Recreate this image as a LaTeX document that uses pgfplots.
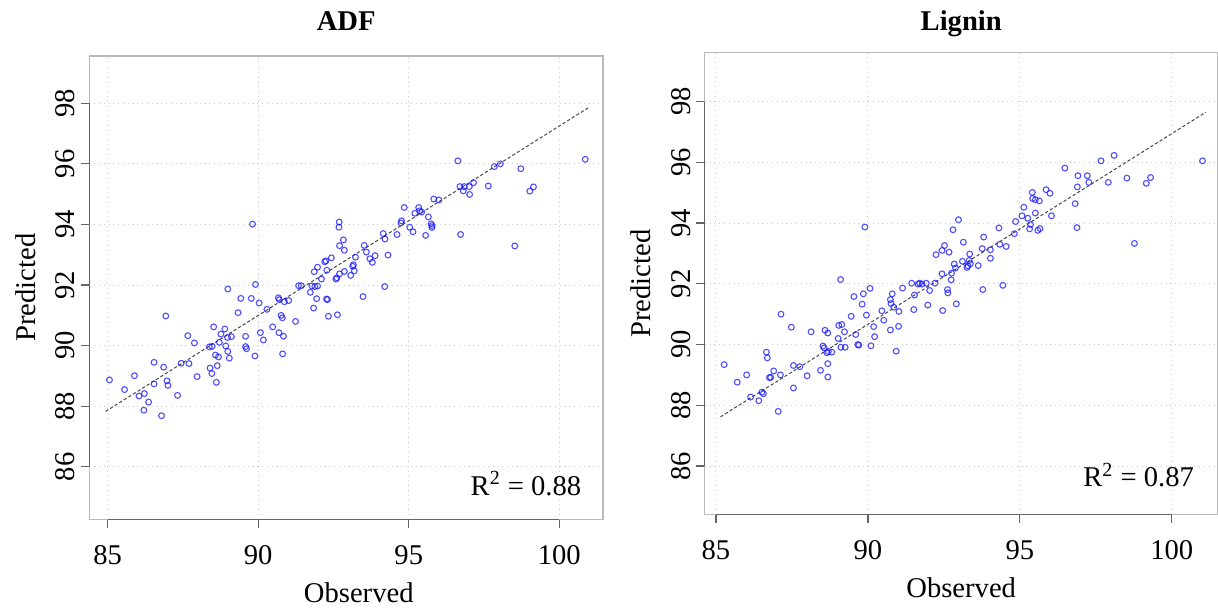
\documentclass[border=0pt]{standalone}
\usepackage{fontspec}
\setmainfont{Liberation Serif}
\usepackage{pgfplots}
\pgfplotsset{compat=1.18}
\definecolor{boxgray}{RGB}{185,185,185}
\definecolor{axgray}{RGB}{100,100,100}
\definecolor{gridgray}{RGB}{200,200,200}
\definecolor{ptblue}{RGB}{20,20,255}
\definecolor{linegray}{RGB}{70,70,70}

\pgfplotstableread{
x y
85.06 88.87
85.56 88.55
85.89 89.01
86.04 88.34
86.22 88.42
86.36 88.14
86.20 87.87
86.79 87.69
86.54 89.45
86.86 89.29
86.54 88.74
86.97 88.84
87.00 88.69
86.93 90.98
87.32 88.36
87.44 89.42
87.70 89.41
87.66 90.33
87.88 90.09
87.97 88.98
88.40 89.26
88.46 89.08
88.61 88.79
88.38 89.96
88.47 89.98
88.58 89.69
88.68 89.63
88.64 89.34
88.52 90.62
88.76 90.38
88.89 90.55
88.71 90.11
88.98 90.27
89.11 90.30
88.92 89.99
88.99 89.81
89.04 89.59
88.99 91.87
89.42 91.56
89.77 91.56
89.91 92.02
90.03 91.41
89.33 91.09
90.29 91.20
89.58 90.31
89.58 89.97
89.61 89.90
89.89 89.66
90.07 90.43
90.17 90.19
90.48 90.62
90.69 90.43
90.84 90.31
90.81 89.73
90.76 91.00
90.80 90.92
90.67 91.58
90.70 91.52
90.87 91.45
91.01 91.49
91.24 90.80
89.81 94.01
91.34 91.98
91.43 91.98
91.73 91.76
91.78 91.97
91.88 91.95
91.97 91.97
91.94 91.55
91.84 91.24
92.27 91.54
92.30 91.52
92.33 90.97
92.63 91.02
92.10 92.20
92.58 92.20
92.61 92.24
92.70 92.37
93.07 92.32
92.86 92.45
93.19 92.47
91.86 92.44
92.28 92.49
91.97 92.59
92.25 92.80
92.21 92.77
93.16 92.67
93.14 92.62
92.43 92.90
92.70 93.30
92.86 93.15
92.83 93.49
92.69 94.08
92.68 93.91
93.23 92.92
93.52 93.31
93.59 93.09
93.88 92.97
93.71 92.87
93.79 92.75
94.31 92.99
93.48 91.62
94.20 91.95
94.15 93.70
94.21 93.52
94.61 93.67
94.76 94.12
94.74 94.05
95.03 93.91
95.14 93.76
95.56 93.64
94.85 94.56
95.33 94.56
95.36 94.45
95.20 94.37
95.43 94.41
95.65 94.25
95.74 94.02
95.77 93.96
95.77 93.90
95.83 94.84
96.00 94.81
96.63 96.10
96.72 93.67
96.70 95.25
96.84 95.25
96.81 95.11
97.01 95.25
97.15 95.38
97.02 94.99
97.64 95.27
97.84 95.91
98.04 96.00
98.72 95.84
99.02 95.10
99.14 95.24
98.52 93.29
100.86 96.15
}\adf

\pgfplotstableread{
x y
85.27 89.34
85.70 88.76
86.01 89.00
86.14 88.27
86.41 88.15
86.51 88.43
86.56 88.38
86.66 89.75
86.69 89.56
86.90 89.13
86.76 88.91
86.80 88.92
87.12 89.00
87.05 87.80
87.14 91.00
87.48 90.57
87.55 89.31
87.76 89.27
87.55 88.57
88.00 88.97
88.13 90.42
88.44 89.15
88.68 89.37
88.68 88.93
88.52 89.95
88.56 89.89
88.65 89.73
88.70 89.77
88.81 89.75
88.59 90.47
88.68 90.38
89.02 90.20
89.04 90.63
89.14 90.66
89.23 90.42
89.11 89.91
89.25 89.91
89.45 90.93
89.54 91.58
89.60 90.33
89.67 90.00
89.70 89.98
89.81 91.33
89.85 91.67
90.07 91.85
89.95 90.97
90.19 90.59
90.22 90.26
90.10 89.96
90.46 91.11
90.52 90.80
90.74 91.48
90.80 91.67
90.76 91.35
90.85 91.23
91.02 91.09
90.74 90.48
91.01 90.60
90.93 89.78
91.14 91.86
91.53 91.63
91.51 91.15
91.97 91.30
92.46 91.12
92.63 91.70
92.62 91.81
92.91 91.34
89.10 92.14
89.90 93.87
91.44 92.02
91.65 91.99
91.70 92.02
91.78 91.99
91.92 92.02
92.21 92.02
92.03 91.78
92.44 92.33
92.74 92.13
92.75 92.35
92.84 92.65
92.88 92.52
93.11 92.74
93.33 92.77
93.29 92.59
93.37 92.66
93.26 92.54
93.63 92.60
92.52 93.26
92.44 93.10
92.24 92.96
92.67 93.04
93.35 92.98
93.14 93.37
92.80 93.78
92.98 94.11
93.81 93.54
93.76 93.16
94.03 93.12
94.03 92.84
94.34 93.30
94.55 93.23
94.31 93.84
94.82 93.65
94.86 94.05
95.07 94.24
95.26 94.16
95.35 93.95
95.32 93.81
95.66 93.82
95.59 93.76
95.51 94.33
95.13 94.52
96.04 94.24
95.41 95.01
95.42 94.81
95.51 94.77
95.64 94.73
95.86 95.10
95.99 94.98
96.48 95.81
96.91 95.56
97.22 95.56
96.89 95.19
97.27 95.34
96.82 94.64
96.88 93.85
93.78 91.81
94.44 91.95
97.67 96.05
98.10 96.23
97.91 95.34
98.52 95.48
99.16 95.31
99.30 95.50
98.77 93.33
101.01 96.05
}\lignin

\pgfplotsset{
  rstyle/.style={
    scale only axis,
    clip=false,
    axis line style={boxgray, line width=0.6pt},
    tick pos=left,
    tick align=outside,
    major tick length=4.3pt,
    tick style={axgray, line width=0.6pt},
    xtick={85,90,95,100},
    ytick={86,88,90,92,94,96,98},
    grid=major,
    major grid style={gridgray, dotted, line width=0.5pt},
    /pgf/number format/assume math mode=true,
    tick label style={font=\fontsize{14.3}{17}\selectfont},
    xticklabel style={anchor=base},
    xticklabel shift=18.5pt,
    yticklabel style={rotate=90, anchor=base},
    yticklabel shift=3pt,
    every axis title/.style={at={(axis description cs:0.5,1)}, anchor=base, yshift=12.5pt, font=\bfseries\fontsize{14.3}{17}\selectfont},
    every axis x label/.style={at={(axis description cs:0.5,0)}, anchor=base, yshift=-41.5pt, font=\fontsize{14.3}{17}\selectfont},
    every axis y label/.style={at={(axis description cs:0,0.5)}, xshift=-27pt, rotate=90, anchor=base, font=\fontsize{14.3}{17}\selectfont},
    xlabel={Observed},
    ylabel={Predicted},
  },
  pts/.style={only marks, mark=o, mark size=1.45pt, ptblue, draw opacity=0.75, mark options={line width=0.55pt}},
  fit/.style={linegray, line width=0.5pt, dash pattern=on 1.6pt off 1.1pt},
}

\begin{document}
\begin{tikzpicture}
\begin{axis}[rstyle,
  at={(0pt,0pt)}, anchor=south west,
  width=256.85pt, height=231.65pt,
  xmin=84.39, xmax=101.45, ymin=84.27, ymax=99.56,
  title={ADF},
  every axis x label/.append style={xshift=6.3pt},
]
\draw[axgray, line width=0.6pt] (axis cs:85,84.27) -- (axis cs:100,84.27);
\draw[axgray, line width=0.6pt] (axis cs:84.39,86) -- (axis cs:84.39,98);
\addplot[fit] coordinates {(84.93,87.83) (100.96,97.85)};
\addplot[pts] table[x=x, y=y] {\adf};
\node[anchor=base east, font=\fontsize{14.3}{17}\selectfont, xshift=-7.35pt, yshift=12.15pt] at (rel axis cs:1,0) {R\textsuperscript{2} = 0.88};
\end{axis}
\begin{axis}[rstyle,
  at={(307.7pt,2.5pt)}, anchor=south west,
  width=256.5pt, height=230.8pt,
  xmin=84.63, xmax=101.51, ymin=84.41, ymax=99.61,
  title={Lignin},
  every axis title/.append style={yshift=-1.5pt},
]
\draw[axgray, line width=0.6pt] (axis cs:85,84.41) -- (axis cs:100,84.41);
\draw[axgray, line width=0.6pt] (axis cs:84.63,86) -- (axis cs:84.63,98);
\addplot[fit] coordinates {(85.15,87.62) (101.12,97.65)};
\addplot[pts] table[x=x, y=y] {\lignin};
\node[anchor=base east, font=\fontsize{14.3}{17}\selectfont, xshift=-8.35pt, yshift=13.8pt] at (rel axis cs:1,0) {R\textsuperscript{2} = 0.87};
\end{axis}
\pgfresetboundingbox
\useasboundingbox (-44.65pt,-45.35pt) rectangle (564.35pt,259.65pt);
\end{tikzpicture}
\end{document}
